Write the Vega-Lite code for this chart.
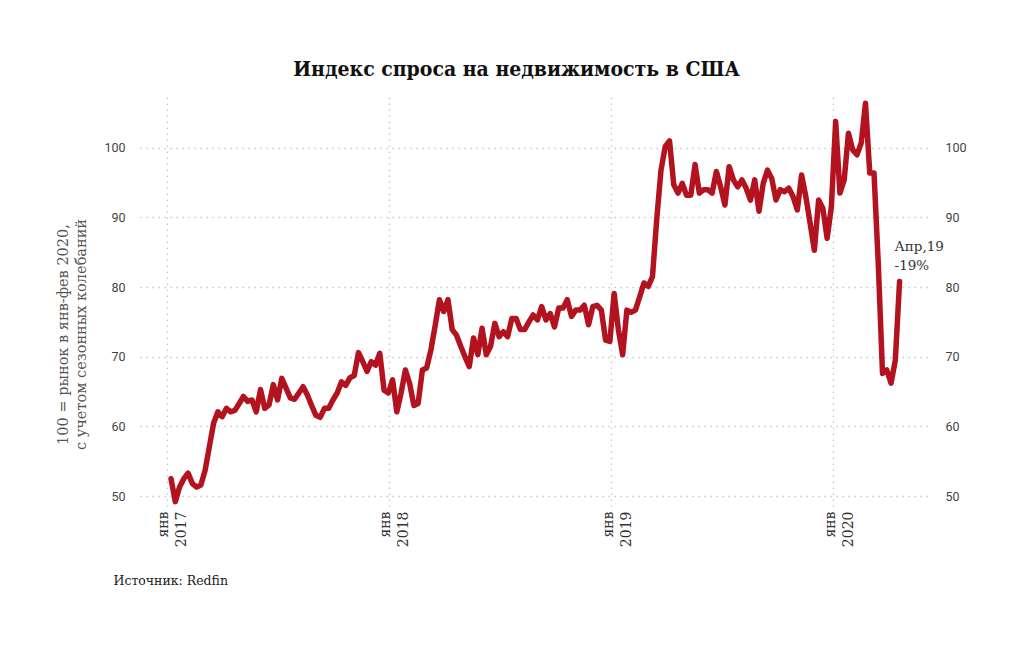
{
  "$schema": "https://vega.github.io/schema/vega-lite/v6.json",
  "width": 790,
  "height": 413,
  "autosize": {"type": "none"},
  "padding": {"left": 140, "top": 97, "right": 103, "bottom": 135},
  "background": "white",
  "title": {
    "text": "Индекс спроса на недвижимость в США",
    "font": "DejaVu Serif Condensed",
    "fontWeight": "bold",
    "fontSize": 21,
    "color": "#111111",
    "frame": "bounds",
    "anchor": "middle",
    "offset": 17,
    "dx": 6
  },
  "config": {
    "view": {"stroke": null},
    "axis": {
      "gridColor": "#c8c8c8",
      "gridDash": [1.5, 4.5],
      "gridWidth": 1.3,
      "ticks": false,
      "domain": false
    }
  },
  "datasets": {
    "d": [
      {"date": "2017-01-08", "v": 52.5}, {"date": "2017-01-15", "v": 49.2}, {"date": "2017-01-22", "v": 51.3}, {"date": "2017-01-29", "v": 52.5},
      {"date": "2017-02-05", "v": 53.3}, {"date": "2017-02-12", "v": 51.8}, {"date": "2017-02-19", "v": 51.3}, {"date": "2017-02-26", "v": 51.6},
      {"date": "2017-03-05", "v": 53.7}, {"date": "2017-03-12", "v": 57.1}, {"date": "2017-03-19", "v": 60.5}, {"date": "2017-03-26", "v": 62.1},
      {"date": "2017-04-02", "v": 61.4}, {"date": "2017-04-09", "v": 62.6}, {"date": "2017-04-16", "v": 62.1}, {"date": "2017-04-23", "v": 62.3},
      {"date": "2017-04-30", "v": 63.3}, {"date": "2017-05-07", "v": 64.3}, {"date": "2017-05-14", "v": 63.6}, {"date": "2017-05-21", "v": 63.8},
      {"date": "2017-05-28", "v": 62.1}, {"date": "2017-06-04", "v": 65.3}, {"date": "2017-06-11", "v": 62.6}, {"date": "2017-06-18", "v": 63.1},
      {"date": "2017-06-25", "v": 66.0}, {"date": "2017-07-02", "v": 63.8}, {"date": "2017-07-09", "v": 66.9}, {"date": "2017-07-16", "v": 65.5},
      {"date": "2017-07-23", "v": 64.1}, {"date": "2017-07-30", "v": 63.9}, {"date": "2017-08-06", "v": 64.8}, {"date": "2017-08-13", "v": 65.7},
      {"date": "2017-08-20", "v": 64.5}, {"date": "2017-08-27", "v": 63.0}, {"date": "2017-09-03", "v": 61.6}, {"date": "2017-09-10", "v": 61.3},
      {"date": "2017-09-17", "v": 62.6}, {"date": "2017-09-24", "v": 62.6}, {"date": "2017-10-01", "v": 63.8}, {"date": "2017-10-08", "v": 64.8},
      {"date": "2017-10-15", "v": 66.4}, {"date": "2017-10-22", "v": 65.9}, {"date": "2017-10-29", "v": 67.0}, {"date": "2017-11-05", "v": 67.3},
      {"date": "2017-11-12", "v": 70.6}, {"date": "2017-11-19", "v": 69.3}, {"date": "2017-11-26", "v": 67.9}, {"date": "2017-12-03", "v": 69.3},
      {"date": "2017-12-10", "v": 68.8}, {"date": "2017-12-17", "v": 70.5}, {"date": "2017-12-24", "v": 65.2}, {"date": "2017-12-31", "v": 64.8},
      {"date": "2018-01-07", "v": 66.7}, {"date": "2018-01-14", "v": 62.1}, {"date": "2018-01-21", "v": 64.8}, {"date": "2018-01-28", "v": 68.1},
      {"date": "2018-02-04", "v": 66.2}, {"date": "2018-02-11", "v": 63.0}, {"date": "2018-02-18", "v": 63.3}, {"date": "2018-02-25", "v": 68.1},
      {"date": "2018-03-04", "v": 68.4}, {"date": "2018-03-11", "v": 71.0}, {"date": "2018-03-18", "v": 74.5}, {"date": "2018-03-25", "v": 78.2},
      {"date": "2018-04-01", "v": 76.5}, {"date": "2018-04-08", "v": 78.2}, {"date": "2018-04-15", "v": 73.9}, {"date": "2018-04-22", "v": 73.1},
      {"date": "2018-04-29", "v": 71.5}, {"date": "2018-05-06", "v": 70.0}, {"date": "2018-05-13", "v": 68.6}, {"date": "2018-05-20", "v": 72.7},
      {"date": "2018-05-27", "v": 70.3}, {"date": "2018-06-03", "v": 74.1}, {"date": "2018-06-10", "v": 70.3}, {"date": "2018-06-17", "v": 71.5},
      {"date": "2018-06-24", "v": 74.8}, {"date": "2018-07-01", "v": 72.9}, {"date": "2018-07-08", "v": 73.6}, {"date": "2018-07-15", "v": 72.9},
      {"date": "2018-07-22", "v": 75.5}, {"date": "2018-07-29", "v": 75.5}, {"date": "2018-08-05", "v": 73.9}, {"date": "2018-08-12", "v": 73.9},
      {"date": "2018-08-19", "v": 75.0}, {"date": "2018-08-26", "v": 76.0}, {"date": "2018-09-02", "v": 75.3}, {"date": "2018-09-09", "v": 77.2},
      {"date": "2018-09-16", "v": 75.3}, {"date": "2018-09-23", "v": 76.2}, {"date": "2018-09-30", "v": 74.3}, {"date": "2018-10-07", "v": 77.0},
      {"date": "2018-10-14", "v": 77.0}, {"date": "2018-10-21", "v": 78.2}, {"date": "2018-10-28", "v": 75.8}, {"date": "2018-11-04", "v": 76.7},
      {"date": "2018-11-11", "v": 76.7}, {"date": "2018-11-18", "v": 77.4}, {"date": "2018-11-25", "v": 74.6}, {"date": "2018-12-02", "v": 77.2},
      {"date": "2018-12-09", "v": 77.4}, {"date": "2018-12-16", "v": 76.7}, {"date": "2018-12-23", "v": 72.4}, {"date": "2018-12-30", "v": 72.2},
      {"date": "2019-01-06", "v": 79.1}, {"date": "2019-01-13", "v": 73.9}, {"date": "2019-01-20", "v": 70.3}, {"date": "2019-01-27", "v": 76.7},
      {"date": "2019-02-03", "v": 76.4}, {"date": "2019-02-10", "v": 76.7}, {"date": "2019-02-17", "v": 78.6}, {"date": "2019-02-24", "v": 80.6},
      {"date": "2019-03-03", "v": 80.1}, {"date": "2019-03-10", "v": 81.5}, {"date": "2019-03-17", "v": 89.7}, {"date": "2019-03-24", "v": 96.8},
      {"date": "2019-03-31", "v": 100.2}, {"date": "2019-04-07", "v": 101.0}, {"date": "2019-04-14", "v": 94.7}, {"date": "2019-04-21", "v": 93.5},
      {"date": "2019-04-28", "v": 94.9}, {"date": "2019-05-05", "v": 93.2}, {"date": "2019-05-12", "v": 93.2}, {"date": "2019-05-19", "v": 97.6},
      {"date": "2019-05-26", "v": 93.5}, {"date": "2019-06-02", "v": 94.0}, {"date": "2019-06-09", "v": 94.0}, {"date": "2019-06-16", "v": 93.5},
      {"date": "2019-06-23", "v": 96.6}, {"date": "2019-06-30", "v": 94.4}, {"date": "2019-07-07", "v": 91.8}, {"date": "2019-07-14", "v": 97.3},
      {"date": "2019-07-21", "v": 95.4}, {"date": "2019-07-28", "v": 94.4}, {"date": "2019-08-04", "v": 95.4}, {"date": "2019-08-11", "v": 94.2},
      {"date": "2019-08-18", "v": 92.5}, {"date": "2019-08-25", "v": 95.4}, {"date": "2019-09-01", "v": 90.9}, {"date": "2019-09-08", "v": 94.9},
      {"date": "2019-09-15", "v": 96.8}, {"date": "2019-09-22", "v": 95.6}, {"date": "2019-09-29", "v": 92.5}, {"date": "2019-10-06", "v": 94.0},
      {"date": "2019-10-13", "v": 93.7}, {"date": "2019-10-20", "v": 94.2}, {"date": "2019-10-27", "v": 93.0}, {"date": "2019-11-03", "v": 91.1},
      {"date": "2019-11-10", "v": 96.1}, {"date": "2019-11-17", "v": 93.0}, {"date": "2019-11-24", "v": 89.2}, {"date": "2019-12-01", "v": 85.3},
      {"date": "2019-12-08", "v": 92.5}, {"date": "2019-12-15", "v": 91.3}, {"date": "2019-12-22", "v": 87.0}, {"date": "2019-12-29", "v": 91.6},
      {"date": "2020-01-05", "v": 103.8}, {"date": "2020-01-12", "v": 93.5}, {"date": "2020-01-19", "v": 95.4}, {"date": "2020-01-26", "v": 102.1},
      {"date": "2020-02-02", "v": 99.7}, {"date": "2020-02-09", "v": 99.0}, {"date": "2020-02-16", "v": 100.7}, {"date": "2020-02-23", "v": 106.4},
      {"date": "2020-03-01", "v": 96.4}, {"date": "2020-03-08", "v": 96.4}, {"date": "2020-03-15", "v": 83.4}, {"date": "2020-03-22", "v": 67.6},
      {"date": "2020-03-29", "v": 68.1}, {"date": "2020-04-05", "v": 66.2}, {"date": "2020-04-12", "v": 69.5}, {"date": "2020-04-19", "v": 80.8}
    ]
  },
  "layer": [
    {
      "layer": [
        {
          "data": {"name": "d"},
          "mark": {"type": "line", "color": "#b3131f", "strokeWidth": 5.5, "strokeJoin": "round", "strokeCap": "round"},
          "encoding": {
            "x": {
              "field": "date",
              "type": "temporal",
              "scale": {"domain": [{"year": 2016, "month": 11, "date": 18}, {"year": 2020, "month": 6, "date": 8}]},
              "axis": {
                "values": [{"year": 2017, "month": 1, "date": 1}, {"year": 2018, "month": 1, "date": 1}, {"year": 2019, "month": 1, "date": 1}, {"year": 2020, "month": 1, "date": 1}],
                "labelExpr": "['янв', timeFormat(datum.value, '%Y')]",
                "labelAngle": -90,
                "labelAlign": "right",
                "labelBaseline": "middle",
                "labelFont": "DejaVu Serif",
                "labelFontSize": 14,
                "labelLineHeight": 18,
                "labelColor": "#333333",
                "labelPadding": 1,
                "labelOffset": -3,
                "grid": true,
                "title": "Источник: Redfin",
                "titleFont": "DejaVu Serif",
                "titleFontSize": 12.5,
                "titleFontWeight": "normal",
                "titleColor": "#222222",
                "titleAnchor": "start",
                "titleAlign": "left",
                "titleBaseline": "middle",
                "titleAngle": 0,
                "titleX": -27,
                "titleY": 70
              }
            },
            "y": {
              "field": "v",
              "type": "quantitative",
              "scale": {"domain": [48, 107.3], "nice": false, "zero": false},
              "axis": {
                "values": [50, 60, 70, 80, 90, 100],
                "labelFont": "Roboto",
                "labelFontSize": 12.5,
                "labelColor": "#444444",
                "labelPadding": 15,
                "grid": true,
                "title": ["100 = рынок в янв-фев 2020,", "с учетом сезонных колебаний"],
                "titleFont": "DejaVu Serif",
                "titleFontSize": 14.5,
                "titleFontWeight": "normal",
                "titleColor": "#555555",
                "titleAngle": -90,
                "titleAlign": "center",
                "titleBaseline": "bottom",
                "titleLineHeight": 18,
                "titleX": -70,
                "titleY": 237
              }
            }
          }
        },
        {
          "data": {"values": [{"date": "2020-04-19", "v": 80.8}]},
          "mark": {"type": "text", "text": ["Апр,19", "-19%"], "align": "left", "baseline": "bottom", "dx": -5, "dy": -28, "font": "DejaVu Serif", "fontSize": 13.5, "lineHeight": 19, "color": "#333333"},
          "encoding": {
            "x": {"field": "date", "type": "temporal"},
            "y": {"field": "v", "type": "quantitative"}
          }
        }
      ]
    },
    {
      "data": {"name": "d"},
      "mark": {"type": "line", "strokeOpacity": 0},
      "encoding": {
        "x": {"field": "date", "type": "temporal"},
        "y": {
          "field": "v",
          "type": "quantitative",
          "scale": {"domain": [48, 107.3], "nice": false, "zero": false},
          "axis": {
            "orient": "right",
            "values": [50, 60, 70, 80, 90, 100],
            "labelFont": "Roboto",
            "labelFontSize": 12.5,
            "labelColor": "#444444",
            "labelPadding": 15,
            "grid": false,
            "title": null
          }
        }
      }
    }
  ],
  "resolve": {"scale": {"y": "independent"}}
}
